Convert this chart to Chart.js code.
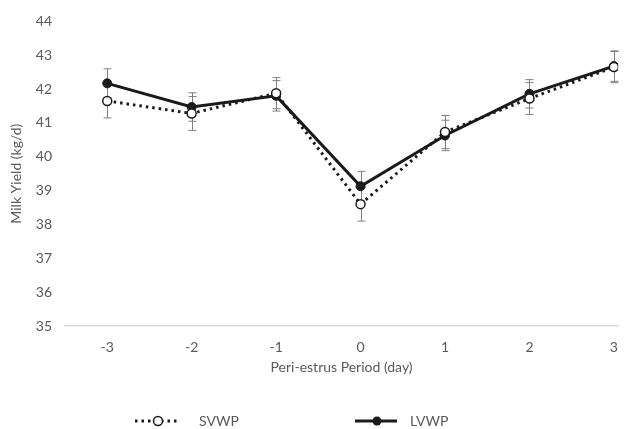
<!DOCTYPE html>
<html>
<head>
<meta charset="utf-8">
<script src="https://cdn.jsdelivr.net/npm/chart.js@4/dist/chart.umd.min.js"></script>
<style>
  html, body { margin: 0; padding: 0; background: #fff; }
  #wrap { width: 631px; height: 429px; }
</style>
</head>
<body>
<div id="wrap"><canvas id="milkChart" width="631" height="429"></canvas></div>
<script>
// 데이터
const days = [-3, -2, -1, 0, 1, 2, 3];
const yTicks = [35, 36, 37, 38, 39, 40, 41, 42, 43, 44];
const svwp = [41.65, 41.28, 41.88, 38.6, 40.73, 41.72, 42.65];
const lvwp = [42.17, 41.47, 41.8, 39.13, 40.63, 41.86, 42.68];
const svwpErr = [0.5, 0.5, 0.46, 0.5, 0.49, 0.47, 0.46];
const lvwpErr = [0.43, 0.42, 0.45, 0.44, 0.45, 0.42, 0.45];

const FONT = 'Lato, "Open Sans", sans-serif';
const GREY = '#595959';

// 오차 막대
const errorBars = {
    id: 'errorBars',
    beforeDatasetsDraw(chart) {
        const ctx = chart.ctx;
        const x = chart.scales.x;
        const y = chart.scales.y;
        const sets = [[svwp, svwpErr], [lvwp, lvwpErr]];
        ctx.save();
        ctx.strokeStyle = '#808080';
        ctx.lineWidth = 1;
        sets.forEach(([vals, errs]) => {
            days.forEach((d, i) => {
                const px = Math.round(x.getPixelForValue(d)) + 0.5;
                const top = y.getPixelForValue(vals[i] + errs[i]);
                const bot = y.getPixelForValue(vals[i] - errs[i]);
                ctx.beginPath();
                ctx.moveTo(px, top);
                ctx.lineTo(px, bot);
                ctx.moveTo(px - 4, top);
                ctx.lineTo(px + 4, top);
                ctx.moveTo(px - 4, bot);
                ctx.lineTo(px + 4, bot);
                ctx.stroke();
            });
        });
        ctx.restore();
    }
};

// 범례 (선 + 마커)
const lineLegend = {
    id: 'lineLegend',
    afterDraw(chart) {
        const ctx = chart.ctx;
        const ly = 421;
        ctx.save();
        // SVWP
        ctx.strokeStyle = '#1a1a1a';
        ctx.lineWidth = 3;
        ctx.setLineDash([2.5, 4]);
        ctx.beginPath();
        ctx.moveTo(135, ly);
        ctx.lineTo(178, ly);
        ctx.stroke();
        ctx.setLineDash([]);
        ctx.fillStyle = '#fff';
        ctx.lineWidth = 1.5;
        ctx.beginPath();
        ctx.arc(158, ly, 4.5, 0, Math.PI * 2);
        ctx.fill();
        ctx.stroke();
        // LVWP
        ctx.lineWidth = 3;
        ctx.beginPath();
        ctx.moveTo(355, ly);
        ctx.lineTo(397, ly);
        ctx.stroke();
        ctx.fillStyle = '#1a1a1a';
        ctx.beginPath();
        ctx.arc(377, ly, 4.5, 0, Math.PI * 2);
        ctx.fill();
        // 글자
        ctx.fillStyle = GREY;
        ctx.font = '14px ' + FONT;
        ctx.textBaseline = 'middle';
        ctx.fillText('SVWP', 199, ly);
        ctx.fillText('LVWP', 410, ly);
        ctx.restore();
    }
};

new Chart(document.getElementById('milkChart'), {
    type: 'line',
    data: {
        datasets: [
            {
                label: 'SVWP',
                data: days.map((d, i) => ({ x: d, y: svwp[i] })),
                borderColor: '#1a1a1a',
                borderWidth: 3,
                borderDash: [2.5, 4],
                pointRadius: 4.5,
                pointBorderWidth: 1.5,
                pointBackgroundColor: '#fff',
                pointBorderColor: '#1a1a1a',
                tension: 0
            },
            {
                label: 'LVWP',
                data: days.map((d, i) => ({ x: d, y: lvwp[i] })),
                borderColor: '#1a1a1a',
                borderWidth: 3,
                pointRadius: 4.5,
                pointBorderWidth: 1,
                pointBackgroundColor: '#1a1a1a',
                pointBorderColor: '#1a1a1a',
                tension: 0
            }
        ]
    },
    options: {
        responsive: false,
        animation: false,
        layout: { padding: { top: 19, bottom: 53, right: 0, left: 0 } },
        plugins: {
            legend: { display: false },
            tooltip: { enabled: false }
        },
        scales: {
            x: {
                type: 'linear',
                min: -3.5,
                max: 3.05,
                afterBuildTicks: axis => { axis.ticks = days.map(v => ({ value: v })); },
                afterFit: axis => { axis.height = 50; },
                grid: { display: false, drawTicks: false },
                border: { color: '#d9d9d9', width: 1.5 },
                ticks: {
                    padding: 13,
                    color: GREY,
                    font: { family: FONT, size: 14 },
                    callback: v => String(v)
                },
                title: {
                    display: true,
                    text: 'Peri-estrus Period (day)',
                    color: GREY,
                    font: { family: FONT, size: 14 },
                    padding: { top: 2, bottom: 0 }
                }
            },
            y: {
                min: 35,
                max: 44,
                afterBuildTicks: axis => { axis.ticks = yTicks.map(v => ({ value: v })); },
                afterFit: axis => { axis.width = 65; },
                grid: { display: false, drawTicks: false },
                border: { display: false },
                ticks: {
                    padding: 13,
                    color: GREY,
                    font: { family: FONT, size: 14 }
                },
                title: {
                    display: true,
                    text: 'Milk Yield (kg/d)',
                    color: GREY,
                    font: { family: FONT, size: 14 },
                    padding: { top: 8, bottom: 0 }
                }
            }
        }
    },
    plugins: [errorBars, lineLegend]
});
</script>
</body>
</html>
